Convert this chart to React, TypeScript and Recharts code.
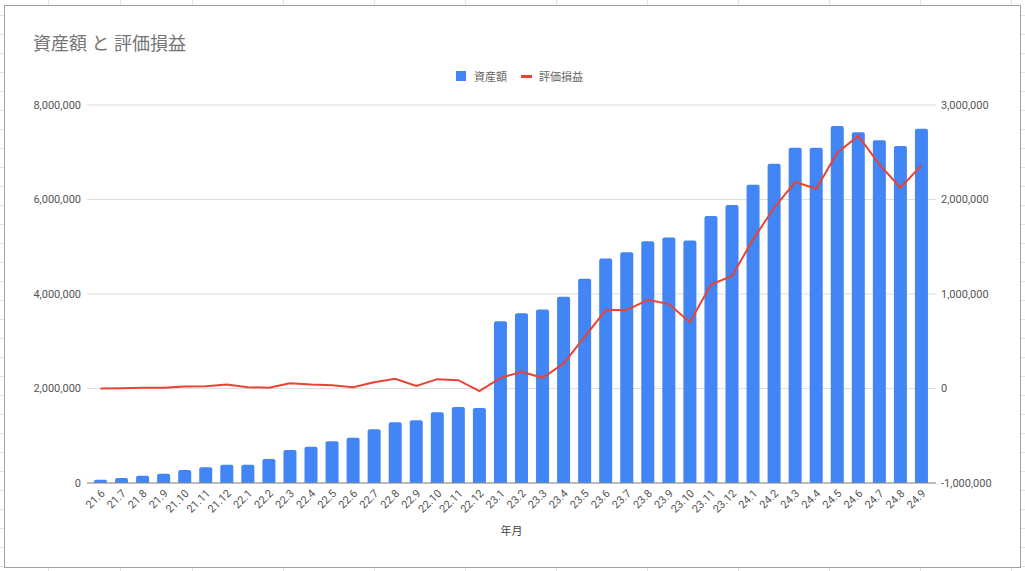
import React from "react";
import {
  Bar,
  CartesianGrid,
  ComposedChart,
  Legend,
  Line,
  XAxis,
  YAxis,
} from "recharts";

// 年月 (yy.m)
const months = [
  "21.6", "21.7", "21.8", "21.9", "21.10", "21.11", "21.12",
  "22.1", "22.2", "22.3", "22.4", "22.5", "22.6", "22.7", "22.8", "22.9", "22.10", "22.11", "22.12",
  "23.1", "23.2", "23.3", "23.4", "23.5", "23.6", "23.7", "23.8", "23.9", "23.10", "23.11", "23.12",
  "24.1", "24.2", "24.3", "24.4", "24.5", "24.6", "24.7", "24.8", "24.9",
];

// 資産額
const assets = [
  70000, 106000, 155000, 197000, 275000, 332000, 388000,
  388000, 508000, 698000, 769000, 882000, 959000, 1136000, 1284000, 1326000, 1496000, 1608000, 1587000,
  3425000, 3594000, 3672000, 3940000, 4321000, 4752000, 4886000, 5119000, 5197000, 5133000, 5649000, 5882000,
  6313000, 6757000, 7096000, 7096000, 7555000, 7421000, 7252000, 7132000, 7499000,
];

// 評価損益
const gains = [
  0, 3000, 7000, 7000, 21000, 25000, 42000,
  14000, 7000, 56000, 42000, 35000, 14000, 67000, 102000, 28000, 99000, 88000, -28000,
  113000, 176000, 113000, 265000, 547000, 830000, 830000, 939000, 893000, 702000, 1101000, 1190000,
  1578000, 1913000, 2185000, 2114000, 2496000, 2672000, 2372000, 2125000, 2361000,
];

const seriesNames = ["資産額", "評価損益"];

const leftTicks = [0, 2000000, 4000000, 6000000, 8000000];
const rightTicks = [-1000000, 0, 1000000, 2000000, 3000000];

const data = months.map((m, i) => ({ month: m, assets: assets[i], gains: gains[i] }));

const FONT = "Roboto, 'Noto Sans CJK JP', sans-serif";
const BLUE = "#4285f4";
const RED = "#ea4335";

const fmt = (v: number) => v.toLocaleString("en-US");

function MonthTick({ x, y, payload }: any) {
  return (
    <g transform={`translate(${x + 5},${y + 11}) rotate(-45)`}>
      <text textAnchor="end" fontSize={11} fill="#555" fontFamily={FONT}>
        {payload.value}
      </text>
    </g>
  );
}

function LegendContent({ payload }: any) {
  const items = [...(payload || [])].sort(
    (a: any, b: any) => seriesNames.indexOf(a.value) - seriesNames.indexOf(b.value)
  );
  return (
    <div style={{ display: "flex", alignItems: "center", fontSize: 11, color: "#666", fontFamily: FONT }}>
      {items.map((entry: any) => (
        <div key={entry.value} style={{ display: "flex", alignItems: "center", marginRight: 14 }}>
          {entry.type === "square" ? (
            <span style={{ width: 10, height: 10, background: entry.color, marginRight: 8 }} />
          ) : (
            <span style={{ width: 11, height: 3, background: entry.color, marginRight: 7 }} />
          )}
          <span>{entry.value}</span>
        </div>
      ))}
    </div>
  );
}

function SheetBackdrop() {
  const cols: number[] = [48, 120, 192];
  for (let x = 283; x < 1025; x += 91) cols.push(x);
  const rows: number[] = [];
  for (let y = 15; y < 571; y += 19) rows.push(y);
  return (
    <div style={{ position: "absolute", inset: 0, background: "#fff" }}>
      {cols.map((x) => (
        <div key={"c" + x} style={{ position: "absolute", left: x, top: 0, width: 1, height: 571, background: "#e2e2e2" }} />
      ))}
      {rows.map((y) => (
        <div key={"r" + y} style={{ position: "absolute", left: 0, top: y, width: 1025, height: 1, background: "#e2e2e2" }} />
      ))}
    </div>
  );
}

export default function App() {
  return (
    <div style={{ position: "absolute", left: 0, top: 0, width: 1025, height: 571, overflow: "hidden", fontFamily: FONT }}>
      <SheetBackdrop />
      <div
        style={{
          position: "absolute",
          left: 4,
          top: 5,
          width: 1017,
          height: 563,
          boxSizing: "border-box",
          border: "1px solid #a0a0a0",
          background: "#fff",
        }}
      />
      <div style={{ position: "absolute", left: 33, top: 29, fontSize: 18, color: "#757575", whiteSpace: "pre" }}>
        資産額 と 評価損益
      </div>
      <div style={{ position: "absolute", left: 0, top: 0 }}>
        <ComposedChart width={1025} height={571} data={data} margin={{ top: 105, right: 20, bottom: 20, left: 20 }}>
          <CartesianGrid yAxisId="left" vertical={false} stroke="#dedede" />
          <XAxis
            dataKey="month"
            interval={0}
            tick={<MonthTick />}
            tickLine={false}
            tickSize={0}
            tickMargin={0}
            height={68}
            padding={{ left: 3, right: 4 }}
            axisLine={{ stroke: "#8a8a8a" }}
            label={{ value: "年月", position: "insideBottom", offset: 16, fontSize: 11, fill: "#444", fontFamily: FONT }}
          />
          <YAxis
            yAxisId="left"
            width={67}
            domain={[0, 8000000]}
            ticks={leftTicks}
            tickFormatter={fmt}
            axisLine={false}
            tickLine={false}
            tickSize={4}
            tickMargin={2}
            tick={{ fontSize: 11, fill: "#555", fontFamily: FONT }}
          />
          <YAxis
            yAxisId="right"
            orientation="right"
            width={69}
            domain={[-1000000, 3000000]}
            ticks={rightTicks}
            tickFormatter={fmt}
            axisLine={false}
            tickLine={false}
            tickSize={3}
            tickMargin={2}
            tick={{ fontSize: 11, fill: "#555", fontFamily: FONT }}
          />
          <Legend
            verticalAlign="middle"
            align="center"
            content={<LegendContent />}
            wrapperStyle={{ top: 68, left: 456, width: "auto" }}
          />
          <Bar
            yAxisId="left"
            dataKey="assets"
            name="資産額"
            fill={BLUE}
            barSize={13}
            radius={[2, 2, 0, 0]}
            legendType="square"
            isAnimationActive={false}
          />
          <Line
            yAxisId="right"
            dataKey="gains"
            name="評価損益"
            stroke={RED}
            strokeWidth={2}
            dot={false}
            legendType="plainline"
            isAnimationActive={false}
          />
        </ComposedChart>
      </div>
    </div>
  );
}
